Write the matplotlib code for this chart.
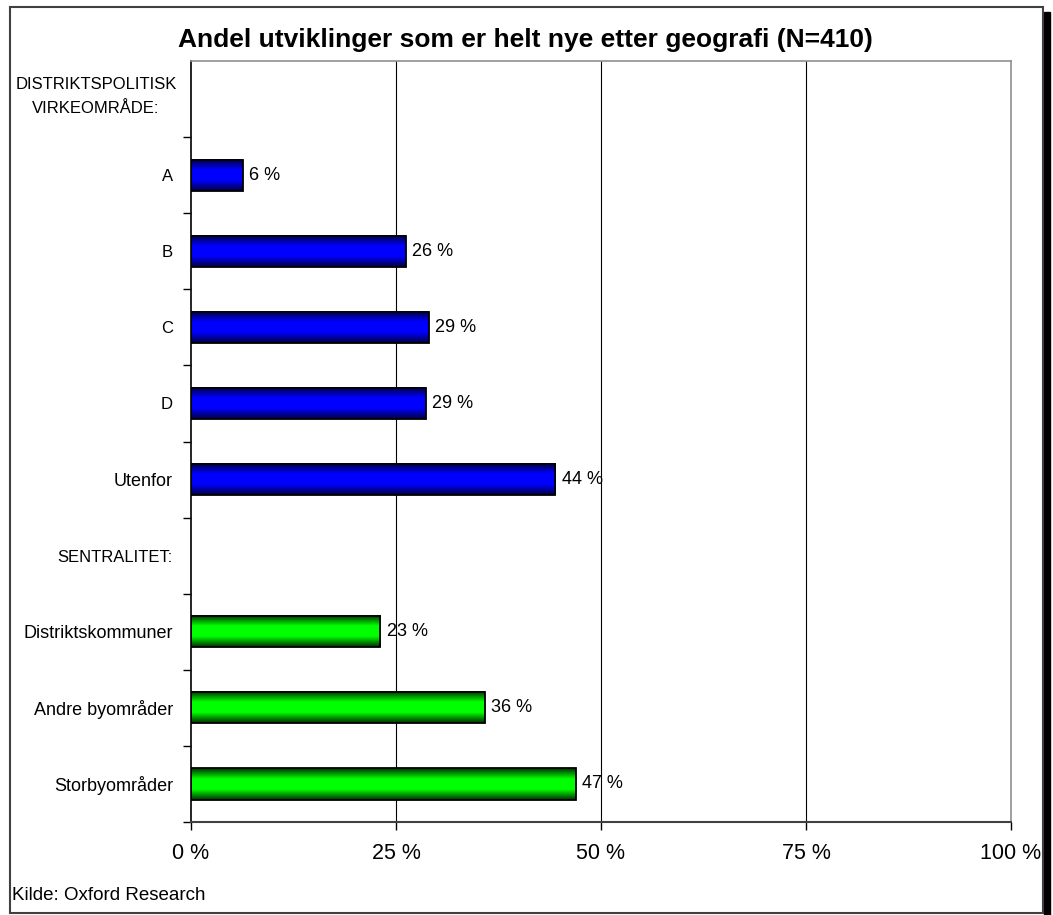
import numpy as np
import matplotlib.pyplot as plt
import matplotlib.transforms as mtransforms
from matplotlib.colors import LinearSegmentedColormap
from matplotlib.patches import Rectangle

plt.rcParams['font.family'] = ['Liberation Sans', 'DejaVu Sans']

# data, top to bottom (None = group header, no bar)
categories = ['DISTRIKTSPOLITISK\nVIRKEOMRÅDE:', 'A', 'B', 'C', 'D', 'Utenfor',
              'SENTRALITET:', 'Distriktskommuner', 'Andre byområder', 'Storbyområder']
values = [None, 6.3, 26.2, 29.0, 28.6, 44.4, None, 23.1, 35.8, 46.9]
groups = [None, 'blue', 'blue', 'blue', 'blue', 'blue', None, 'green', 'green', 'green']
xticks = [0, 25, 50, 75, 100]
xticklabels = ['0 %', '25 %', '50 %', '75 %', '100 %']

cmaps = {
    'blue': LinearSegmentedColormap.from_list('b', ['#000040', '#0000ff', '#0000ff', '#000040']),
    'green': LinearSegmentedColormap.from_list('g', ['#003000', '#00ff00', '#00ff00', '#003000']),
}

fig = plt.figure(figsize=(10.53, 9.15), dpi=100)
ax = fig.add_axes([191/1053, 1-822/915, 820/1053, 761/915])

grad = np.linspace(0, 1, 64).reshape(-1, 1)
h = 0.41
for i, v in enumerate(values):
    if v is None:
        continue
    ax.imshow(grad, extent=[0, v, i + h/2, i - h/2], aspect='auto',
              cmap=cmaps[groups[i]], zorder=2, interpolation='bilinear')
    ax.add_patch(Rectangle((0, i - h/2), v, h, fill=False, ec='black', lw=1.3, zorder=3))
    ax.text(v + 0.8, i, f'{round(v)} %', va='center', ha='left', fontsize=13, zorder=4)

ax.set_xlim(0, 100)
ax.set_ylim(len(categories) - 0.5, -0.5)

ax.set_xticks(xticks)
ax.set_xticklabels(xticklabels, fontsize=15.5)
ax.tick_params(axis='x', length=6, width=1, pad=9, color='black')

# plain categories as tick labels, multi-line headers as separate texts
ax.set_yticks(range(len(categories)))
ax.set_yticklabels([c if '\n' not in c else '' for c in categories], fontsize=13)
for lbl in ax.get_yticklabels():
    if lbl.get_text().isupper():
        lbl.set_fontsize(12)
ax.tick_params(axis='y', which='major', length=0, pad=13)
ax.set_yticks(np.arange(0.5, len(categories) - 0.4, 1.0), minor=True)
ax.tick_params(axis='y', which='minor', length=6, width=1, color='black')

trans = mtransforms.blended_transform_factory(fig.transFigure, ax.transData)
for i, c in enumerate(categories):
    if '\n' in c:
        ax.text(96/1053, i - 0.04, c, transform=trans, ha='center', va='center',
                fontsize=12, linespacing=1.75, multialignment='center')

for x in xticks[1:-1]:
    ax.axvline(x, color='black', lw=0.8, zorder=1)

for s in ['top', 'right']:
    ax.spines[s].set_color('#909090')
    ax.spines[s].set_linewidth(1.2)
ax.spines['left'].set_linewidth(1.2)
ax.spines['bottom'].set_color('#404040')
ax.spines['bottom'].set_linewidth(1.5)

fig.text(0.4986, 1 - 40/915, 'Andel utviklinger som er helt nye etter geografi (N=410)',
         ha='center', va='center', fontsize=19, fontweight='bold')
fig.text(12/1053, 1 - 895/915, 'Kilde: Oxford Research', ha='left', va='center', fontsize=13.5)

# outer frame with shadow
fig.patches.append(Rectangle((1044/1053, 0), 6/1053, 1 - 12/915, transform=fig.transFigure,
                             color='black', zorder=0))
fig.patches.append(Rectangle((10/1053, 2/915), 1033/1053, 906/915, transform=fig.transFigure,
                             fill=False, ec='#404040', lw=1.5, zorder=1))

fig.savefig('out.png', dpi=100)
